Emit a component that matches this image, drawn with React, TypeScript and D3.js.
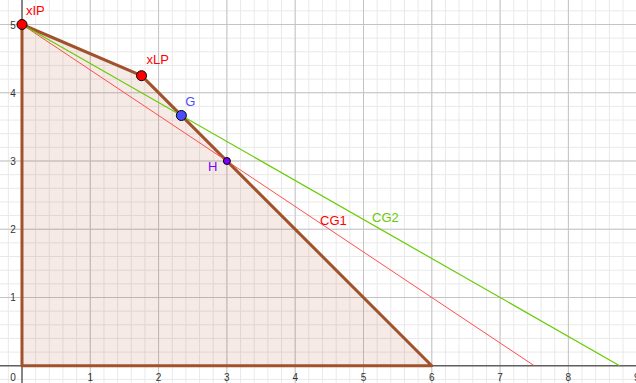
import React from "react";
import * as d3 from "d3";

const W = 636, H = 383;
const xTicks = [1, 2, 3, 4, 5, 6, 7, 8, 9];
const yTicks = [1, 2, 3, 4, 5];
const feasibleRegion: [number, number][] = [[0, 0], [0, 5], [1.75, 4.25], [6, 0]];
const cg1: [number, number][] = [[0, 5], [7.5, 0]];
const cg2: [number, number][] = [[0, 5], [8.75, 0]];
const pointNames = ["xIP", "xLP", "G", "H"];
const pointX = [0, 1.75, 7 / 3, 3];
const pointY = [5, 4.25, 11 / 3, 3];

export default function App() {
  const x = d3.scaleLinear().domain([-0.322, 8.99]).range([0, W]);
  const y = d3.scaleLinear().domain([-0.253, 5.359]).range([H, 0]);
  const minorX = d3.range(-1, 46).map((i) => i * 0.2).filter((v) => v >= -0.322 && v <= 9);
  const minorY = d3.range(-1, 27).map((i) => i * 0.2).filter((v) => v >= -0.253 && v <= 5.36);
  const line = d3.line<[number, number]>().x((d) => x(d[0])).y((d) => y(d[1]));
  const pStyle = [
    { fill: "#ff0000", r: 5, label: "#ff0000", dx: 4, dy: -10 },
    { fill: "#ff0000", r: 5, label: "#ff0000", dx: 5, dy: -12 },
    { fill: "#4d4dff", r: 5, label: "#4d4dff", dx: 4, dy: -9 },
    { fill: "#7c00ff", r: 3.5, label: "#7c00ff", dx: -19, dy: 10 },
  ];
  const font = "Liberation Sans, Arial, sans-serif";
  return (
    <svg width={W} height={H} style={{ position: "absolute", left: 0, top: 0, background: "#fff" }}>
      {minorX.map((v, i) => (
        <line key={"mx" + i} x1={x(v)} x2={x(v)} y1={0} y2={H} stroke="#e9e9e9" strokeWidth={1} />
      ))}
      {minorY.map((v, i) => (
        <line key={"my" + i} x1={0} x2={W} y1={y(v)} y2={y(v)} stroke="#e9e9e9" strokeWidth={1} />
      ))}
      {xTicks.map((v) => (
        <line key={"Mx" + v} x1={x(v)} x2={x(v)} y1={0} y2={H} stroke="#c4c4c4" strokeWidth={1} />
      ))}
      {yTicks.map((v) => (
        <line key={"My" + v} x1={0} x2={W} y1={y(v)} y2={y(v)} stroke="#c4c4c4" strokeWidth={1} />
      ))}
      <path d={line(feasibleRegion)! + "Z"} fill="rgba(153,51,0,0.1)" stroke="none" />
      <line x1={0} x2={W} y1={y(0)} y2={y(0)} stroke="#606060" strokeWidth={1.5} />
      <line x1={x(0)} x2={x(0)} y1={0} y2={H} stroke="#606060" strokeWidth={1.5} />
      <path d={line(feasibleRegion)! + "Z"} fill="none" stroke="#a0522d" strokeWidth={3} strokeLinejoin="round" />
      <path d={line(cg1)!} stroke="#ff4d4d" strokeWidth={1} fill="none" />
      <path d={line(cg2)!} stroke="#66cc00" strokeWidth={1.2} fill="none" />
      {xTicks.map((v) => (
        <text key={"tx" + v} x={x(v)} y={y(0) + 15} textAnchor="middle" fontSize={10} fontFamily={font} fill="#333">
          {v}
        </text>
      ))}
      <text x={x(0) - 9} y={y(0) + 15} textAnchor="middle" fontSize={10} fontFamily={font} fill="#333">0</text>
      {yTicks.map((v) => (
        <text key={"ty" + v} x={x(0) - 9} y={y(v) + 4} textAnchor="middle" fontSize={10} fontFamily={font} fill="#333">
          {v}
        </text>
      ))}
      <text x={320} y={225} fontSize={13} fontFamily={font} fill="#ff0000">CG1</text>
      <text x={372} y={222} fontSize={13} fontFamily={font} fill="#66cc00">CG2</text>
      {pointNames.map((n, i) => (
        <g key={n}>
          <circle cx={x(pointX[i])} cy={y(pointY[i])} r={pStyle[i].r} fill={pStyle[i].fill} stroke="#000" strokeWidth={1} />
          <text x={x(pointX[i]) + pStyle[i].dx} y={y(pointY[i]) + pStyle[i].dy} fontSize={13} fontFamily={font} fill={pStyle[i].label}>
            {n}
          </text>
        </g>
      ))}
    </svg>
  );
}
